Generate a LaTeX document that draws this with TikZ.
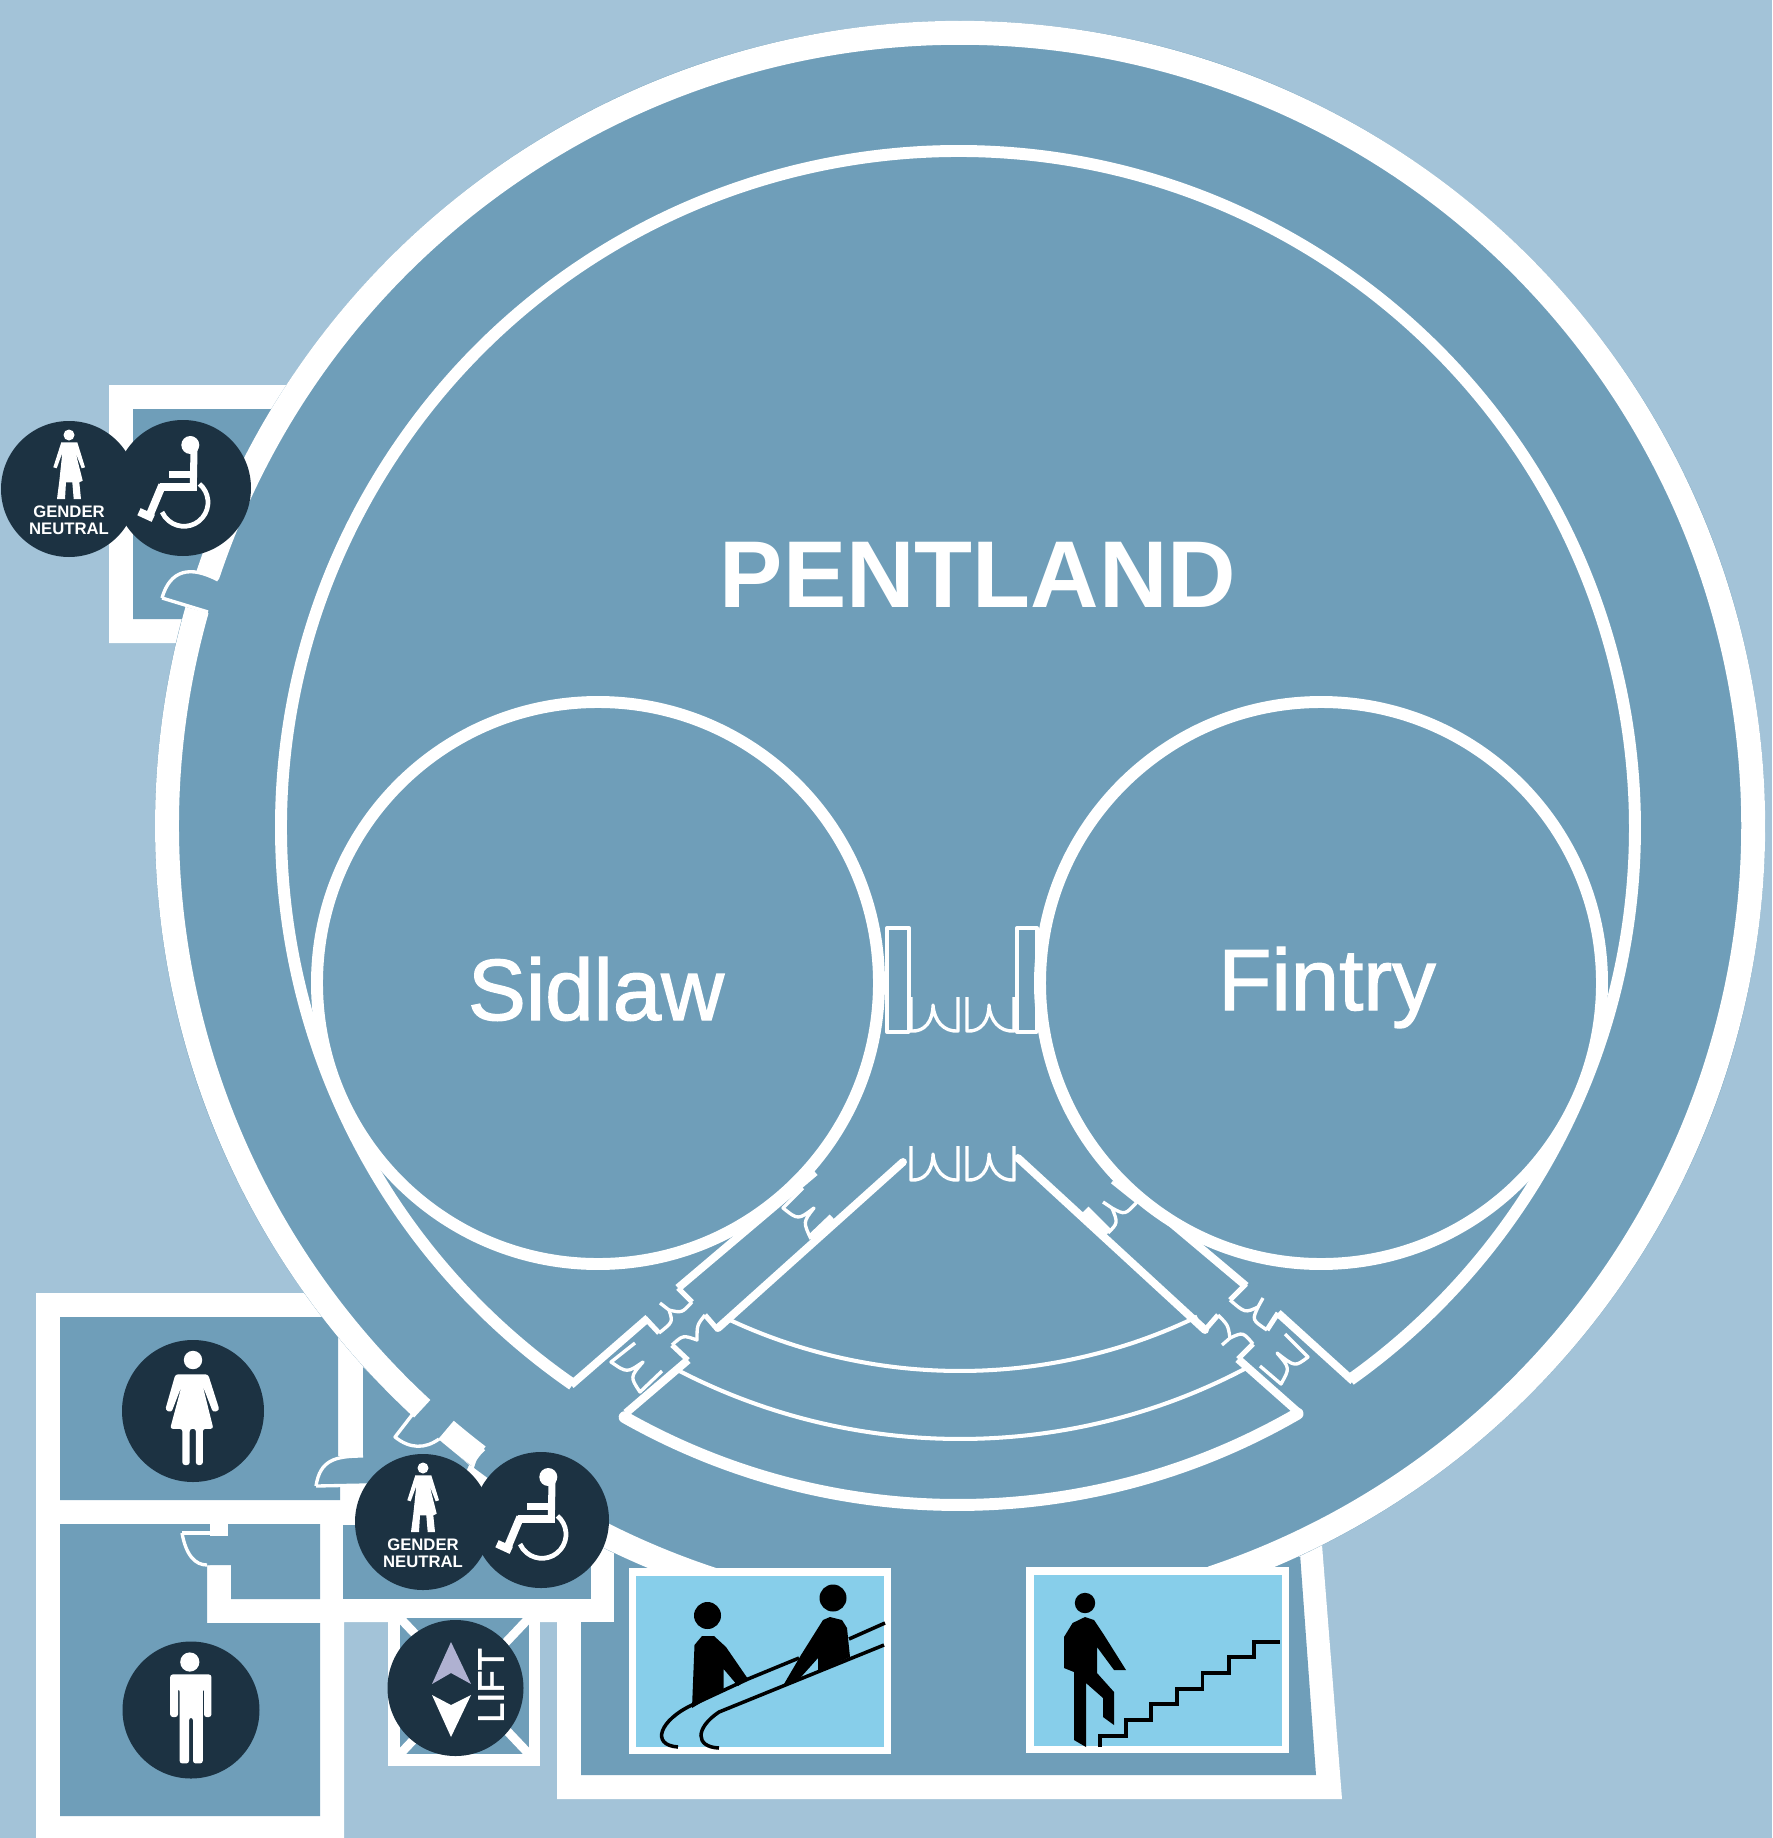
\documentclass[tikz,border=0pt]{standalone}
\usepackage{fontspec}
\setmainfont{Liberation Sans}
\newfontfamily\hallfont[FakeBold=1.5]{Liberation Sans}
\definecolor{bgblue}{HTML}{A3C3D8}
\definecolor{roomblue}{HTML}{6F9EB9}
\definecolor{signnavy}{HTML}{1C3242}
\definecolor{panelblue}{HTML}{87CEEA}
\definecolor{liftlav}{HTML}{AFB1D1}
\tikzset{
    ringwall/.style={draw=white,line width=13.6pt},
    roundwall/.style={draw=white,line width=6.8pt},
    wall/.style={draw=white,line width=4.5pt},
    thinwall/.style={draw=white,line width=2.3pt},
    doorline/.style={draw=white,line width=1.9pt,line join=round},
    jamb/.style={draw=white,line width=2.9pt},
    rail/.style={draw=black,line width=2pt},
    pics/genderneutral/.style = {
    code = {
        \fill[signnavy] (0,0) circle[radius=68];
        \fill[white] (0,-54) circle[radius=5.5];
        \fill[white] (-7.7,-46.7) -- (-15.7,-21.7) -- (-12.3,-20.7) -- (-6.7,-36) -- (-9.7,-7.7)
            -- (-12,10) -- (-4,10) -- (-3,-6.7) -- (3.3,-6.7) -- (4.7,10) -- (12,10) -- (10.3,-6.7)
            -- (13.7,-8.3) -- (6.7,-36) -- (12.7,-20.7) -- (16,-21.7) -- (8.3,-46.7) -- cycle;
        \node[text=white,font=\fontsize{9.5pt}{10pt}\selectfont\bfseries,inner sep=0pt] (-top) at (0,23) {GENDER};
        \node[text=white,font=\fontsize{9.5pt}{10pt}\selectfont\bfseries,inner sep=0pt] (-bottom) at (0,40) {NEUTRAL};
    }},
    pics/wheelchair/.style = {
    code = {
        \fill[signnavy] (0,0) circle[radius=68];
        \fill[white] (7.3,-43) circle[radius=9];
        \draw[white,line width=4pt] (11,-38) -- (10.3,-0.7);
        \draw[white,line width=4.5pt] (-23,-0.7) -- (13.7,-0.7);
        \draw[white,line width=4pt] (-14,-13.3) -- (8.7,-13.3);
        \draw[white,line width=4.5pt] (-20.7,-3) -- (-34,28.7);
        \draw[white,line width=4.5pt] (-44,23.7) -- (-29.7,30.3);
        \draw[white,line width=2.7pt] (1,14.3) ++(-50:24) arc[start angle=-50,end angle=156,radius=24];
    }},
    pics/womansign/.style = {
    code = {
        \fill[signnavy] (0,0) circle[radius=71];
        \fill[white] (0,-51) circle[radius=9.2];
        \fill[white,rounded corners=1.5pt] (-17.6,-36.7) -- (-27.8,-1) -- (-21.6,1.4) -- (-11.4,-25) -- (-22.9,17.8)
            -- (-10.6,17.8) -- (-10.6,54) -- (-3.3,54) -- (-3.3,17.8) -- (2.9,17.8) -- (2.9,54) -- (9.8,54)
            -- (9.8,17.8) -- (20.4,17.8) -- (9.8,-25) -- (20,1.4) -- (26.5,-1) -- (15.1,-36.7) -- cycle;
    }},
    pics/mansign/.style = {
    code = {
        \fill[signnavy] (0,0) circle[radius=68.5];
        \fill[white] (-1.2,-48) circle[radius=9.6];
        \fill[white,rounded corners=1.5pt] (-20.8,-35.6) -- (-20.8,7) -- (-13,7) -- (-13,-21.4) -- (-11.4,-21.4)
            -- (-11.4,53.4) -- (-2,53.4) -- (-2,7.7) -- (2,7.7) -- (2,53.4) -- (11.8,53.4) -- (11.8,-21.4)
            -- (13,-21.4) -- (13,7) -- (20.4,7) -- (20.4,-35.6) -- cycle;
    }},
    pics/wdoor/.style = {
    code = {
        \draw[doorline] (0,-34) -- (0,0) .. controls (14,1) and (22,-10) .. (22,-26)
            .. controls (23,-10) and (33,1) .. (47,0) -- (47,-34);
    }}
}

\begin{document}
\begin{tikzpicture}[x=0.02cm,y=-0.02cm]
    \useasboundingbox (0,0) rectangle (1772,1838);
    \fill[bgblue] (0,0) rectangle (1772,1838);

    % white blocks round the small rooms
    \fill[white] (109,385) -- (300,385) -- (200,643) -- (109,643) -- cycle;
    \fill[white] (36,1293) -- (304,1293) -- (445,1445) -- (614,1553) -- (614,1622) -- (344,1622) -- (344,1838) -- (36,1838) -- cycle;
    \fill[white] (557,1600) -- (1290,1530) -- (1322,1545) -- (1342,1799) -- (557,1799) -- cycle;

    % rooms
    \fill[roomblue] (133,409) -- (272,409) -- (200,600) -- (183,619) -- (133,619) -- cycle;
    \fill[roomblue] (60,1317) -- (322,1317) -- (338,1336) -- (338,1456) -- (363,1456) -- (363,1485)
        -- (340,1485) -- (340,1500) -- (60,1500) -- cycle;
    \fill[roomblue] (60,1524) -- (210,1524) -- (210,1565) -- (207,1565) -- (207,1623) -- (320,1623)
        -- (320,1816) -- (60,1816) -- cycle;
    \fill[roomblue] (210,1524) -- (320,1524) -- (320,1599) -- (231,1599) -- (231,1565) -- (207,1565) -- cycle;
    \fill[white] (210,1524) rectangle (228,1536);
    \fill[roomblue] (343,1525) rectangle (591,1599);
    \fill[roomblue] (363,1367) -- (412,1415) -- (439,1439) -- (469,1465) -- (458,1490) -- (363,1485) -- cycle;
    \fill[roomblue] (581,1622) -- (614,1622) -- (614,1540) -- (1299,1540) -- (1316,1775) -- (581,1775) -- cycle;
    \fill[white] (1299,1557) -- (1322,1545) -- (1280,1500) -- cycle;

    % ring and hall
    \fill[roomblue] (960,826) circle[radius=805];
    \draw[ringwall] (960,826) ++(198.4:793) arc[start angle=198.4,end angle=431.5,radius=793];
    \draw[ringwall] (960,826) ++(132.7:793) arc[start angle=132.7,end angle=195.8,radius=793];
    \draw[ringwall] (960,826) ++(127.4:793) arc[start angle=127.4,end angle=130.4,radius=793];
    \draw[ringwall] (960,826) ++(108.2:793) arc[start angle=108.2,end angle=121,radius=793];

    \draw[roundwall] (958,828) ++(124.7:677) arc[start angle=124.7,end angle=414.6,radius=677];
    \draw[roundwall,line cap=round] (958,828) ++(59.9:677) arc[start angle=59.9,end angle=119.5,radius=677];
    \draw[thinwall] (960,826) ++(64.2:545) arc[start angle=64.2,end angle=115.2,radius=545];
    \draw[thinwall] (960,826) ++(62:613) arc[start angle=62,end angle=117.4,radius=613];

    % corridors
    \draw[wall] (571,1385) -- (648,1318);
    \draw[wall] (678,1288) -- (815,1172);
    \draw[wall,line cap=round] (718,1328) -- (903,1162);
    \draw[wall] (688,1360) -- (626,1413);
    \draw[wall] (1278,1313) -- (1353,1381);
    \draw[wall] (1246,1286) -- (1120,1180);
    \draw[wall,line cap=round] (1018,1158) -- (1205,1330);
    \draw[wall] (1238,1359) -- (1299,1413);

    % rooms in the hall
    \fill[roomblue] (598,983) circle[radius=281];
    \fill[roomblue] (1321,983) circle[radius=281];
    \draw[roundwall] (598,983) circle[radius=281];
    \draw[roundwall] (1321,983) circle[radius=281];

    % doors
    \draw[doorline] (887,928) rectangle (909,1032);
    \draw[doorline] (1017,928) rectangle (1037,1032);
    \pic at (911,1031) {wdoor};
    \pic at (967,1031) {wdoor};
    \pic at (911,1180) {wdoor};
    \pic at (967,1180) {wdoor};

    \draw[doorline] (803,1188) -- (783,1208) .. controls (798,1220) .. (814,1208) .. controls (803,1222) .. (811,1239);
    \draw[jamb,line width=5.5pt] (811,1239) -- (833,1218);
    \draw[jamb] (645,1318) -- (659,1333);
    \draw[doorline] (659,1333) .. controls (673,1322) .. (669,1310) -- (660,1303);
    \draw[doorline] (669,1310) .. controls (682,1313) .. (692,1302);
    \draw[jamb] (692,1302) -- (678,1288);
    \draw[jamb] (688,1360) -- (672,1345);
    \draw[doorline] (672,1345) .. controls (683,1335) .. (697,1340) .. controls (697,1325) .. (705,1315);
    \draw[jamb] (705,1315) -- (718,1330);
    \draw[doorline] (635,1343) -- (611,1362) .. controls (627,1373) .. (643,1362) .. controls (630,1377) .. (640,1392) -- (662,1371);

    \draw[doorline] (1112,1182) -- (1137,1202) .. controls (1125,1215) .. (1112,1208) -- (1103,1202);
    \draw[doorline] (1112,1208) .. controls (1118,1223) .. (1108,1233);
    \draw[jamb,line width=5.5pt] (1108,1233) -- (1085,1210);
    \draw[jamb] (1246,1284) -- (1230,1300);
    \draw[doorline] (1230,1300) .. controls (1245,1313) .. (1258,1307) -- (1263,1298);
    \draw[doorline] (1258,1307) .. controls (1252,1320) .. (1267,1330);
    \draw[jamb] (1267,1330) -- (1278,1313);
    \draw[jamb] (1205,1330) -- (1218,1315);
    \draw[doorline] (1218,1315) .. controls (1228,1325) .. (1230,1338) -- (1222,1345);
    \draw[doorline] (1230,1338) .. controls (1243,1332) .. (1253,1344);
    \draw[jamb] (1253,1344) -- (1238,1359);
    \draw[doorline] (1285,1334) -- (1308,1357) .. controls (1295,1367) .. (1277,1353) .. controls (1290,1368) .. (1281,1384) -- (1260,1366);

    \draw[doorline] (162,598) -- (208,612);
    \draw[doorline] (162,598) .. controls (170,570) and (190,565) .. (218,580);
    \draw[doorline] (316,1486) .. controls (320,1460) and (335,1456) .. (363,1456);
    \draw[doorline] (316,1486) -- (367,1485);
    \draw[doorline] (182,1533) -- (210,1533);
    \draw[doorline] (182,1533) .. controls (186,1555) and (195,1565) .. (207,1565);
    \draw[doorline] (412,1415) -- (395,1437) .. controls (410,1449) and (425,1449) .. (439,1439);
    \draw[doorline] (484,1449) .. controls (475,1458) .. (471,1472);

    % lift
    \fill[white] (388,1610) rectangle (540,1766);
    \fill[roomblue] (400,1618) rectangle (529,1754);
    \begin{scope}
        \clip (400,1618) rectangle (529,1754);
        \draw[white,line width=5pt] (400,1618) -- (529,1754);
        \draw[white,line width=5pt] (529,1618) -- (400,1754);
    \end{scope}

    % escalators
    \fill[white] (629,1568) rectangle (891,1754);
    \fill[panelblue] (636,1576) rectangle (884,1747);
    \draw[rail] (885,1623) -- (849,1639);
    \draw[rail] (799,1658) -- (748,1679) -- (692,1705) .. controls (660,1720) and (650,1745) .. (678,1747);
    \draw[rail] (884,1645) -- (719,1712) .. controls (695,1728) and (695,1747) .. (719,1748);
    \fill[black] (707.5,1615.5) circle[radius=13.5];
    \fill[black] (692,1708) -- (694.5,1645) -- (702,1636) -- (714,1636) -- (726,1647) -- (748,1679) -- (738,1686)
        -- (723.6,1669) -- (723.6,1689) -- cycle;
    \fill[black] (833,1598) circle[radius=13.5];
    \fill[black] (784,1684) -- (801,1655) -- (823,1620) -- (830,1617) -- (842,1620) -- (847,1628) -- (850,1657)
        -- (818,1671) -- (818,1658) -- (801,1677) -- (796,1682) -- cycle;

    % stairs
    \fill[white] (1026,1567) rectangle (1289,1753);
    \fill[panelblue] (1034,1575) rectangle (1282,1746);
    \draw[rail,line width=1.8pt] (1100,1747) |- (1126,1736) |- (1151,1720) |- (1177,1704) |- (1202.5,1689)
        |- (1229,1673) |- (1254,1657) |- (1280,1642);
    \fill[black] (1085,1603) circle[radius=10.2];
    \fill[black] (1064,1637) -- (1072.6,1623) -- (1085,1617) -- (1094,1620) -- (1104,1635) -- (1126,1670) -- (1114,1670)
        -- (1097,1647) -- (1097,1673) -- (1114,1692) -- (1114,1725) -- (1103,1717) -- (1103,1698) -- (1086,1683)
        -- (1086,1747) -- (1074,1740) -- (1074,1672) -- (1064,1668) -- cycle;

    % signs
    \pic (gnTop) at (69,489) {genderneutral};
    \pic (wcTop) at (183,488) {wheelchair};
    \pic (woman) at (193,1411) {womansign};
    \pic (man) at (191,1710) {mansign};
    \pic (wcLow) at (541,1520) {wheelchair};
    \pic (gnLow) at (423,1522) {genderneutral};
    \fill[signnavy] (455.5,1688) circle[radius=68];
    \fill[liftlav] (451,1642) -- (432,1684) -- (451,1673) -- (471,1684) -- cycle;
    \fill[white] (451,1737) -- (432,1695) -- (451,1705) -- (471,1695) -- cycle;
    \node[text=white,font=\fontsize{20.7pt}{22pt}\selectfont\hallfont,rotate=90,inner sep=0pt] (liftlabel) at (491,1685.5) {LIFT};

    % names
    \node[text=white,font=\fontsize{54pt}{56pt}\selectfont\bfseries,inner sep=0pt,anchor=base] (pentland) at (978,607) {PENTLAND};
    \node[text=white,font=\fontsize{49.5pt}{50pt}\selectfont\hallfont,inner sep=0pt,anchor=base] (sidlaw) at (596,1020) {Sidlaw};
    \node[text=white,font=\fontsize{49.5pt}{50pt}\selectfont\hallfont,inner sep=0pt,anchor=base] (fintry) at (1327,1010) {Fintry};
\end{tikzpicture}
\end{document}
